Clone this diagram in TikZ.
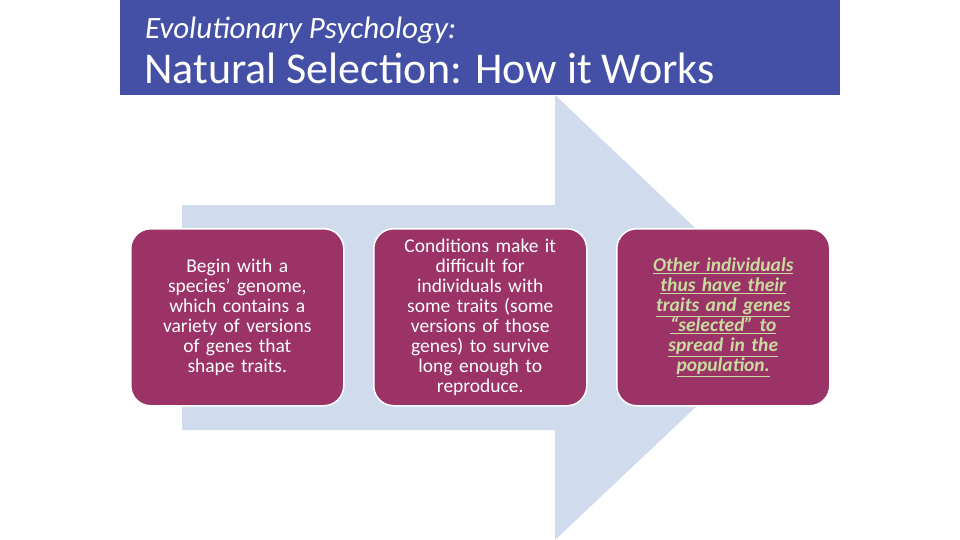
\documentclass[tikz,border=0pt]{standalone}
\usepackage{fontspec}
\setmainfont{Carlito}
\usetikzlibrary{positioning}
\definecolor{ban}{HTML}{4450A5}
\definecolor{arr}{HTML}{D0DCEE}
\definecolor{boxc}{HTML}{9B3366}
\definecolor{grn}{HTML}{C8DCA0}
\begin{document}
\begin{tikzpicture}[x=1pt,y=-1pt,
 box/.style={draw=white,line width=1.5pt,fill=boxc,rounded corners=20pt,minimum width=213pt,minimum height=177pt,anchor=north west,align=center,text=white,font=\fontsize{19.5}{20}\selectfont,text width=200pt}]
\useasboundingbox (0,0) rectangle (960,540);
\fill[white] (0,0) rectangle (960,540);
\fill[ban] (120,0) rectangle (840,95);
\node[anchor=west,inner sep=0pt,text=white,font=\fontsize{31}{32}\selectfont\itshape] (sub) at (145,30) {Evolutionary Psychology:};
\node[anchor=west,inner sep=0pt,text=white,font=\fontsize{44}{44}\selectfont] (ttl) at (144,68) {Natural Selection: How it Works};
\fill[arr] (182,205) -- (555,205) -- (555,95) -- (790,318) -- (555,540) -- (555,430) -- (182,430) -- cycle;
\node[box] (b1) at (130,228) {Begin with a\\species’ genome,\\which contains a\\variety of versions\\of genes that\\shape traits.};
\node[box] (b2) at (373,228) {Conditions make it\\difficult for\\individuals with\\some traits (some\\versions of those\\genes) to survive\\long enough to\\reproduce.};
\node[box,text=grn,font=\fontsize{19.5}{20}\selectfont\bfseries\itshape] (b3) at (616,228) {\underline{Other individuals}\\\underline{thus have their}\\\underline{traits and genes}\\\underline{“selected” to}\\\underline{spread in the}\\\underline{population.}};
\end{tikzpicture}
\end{document}
